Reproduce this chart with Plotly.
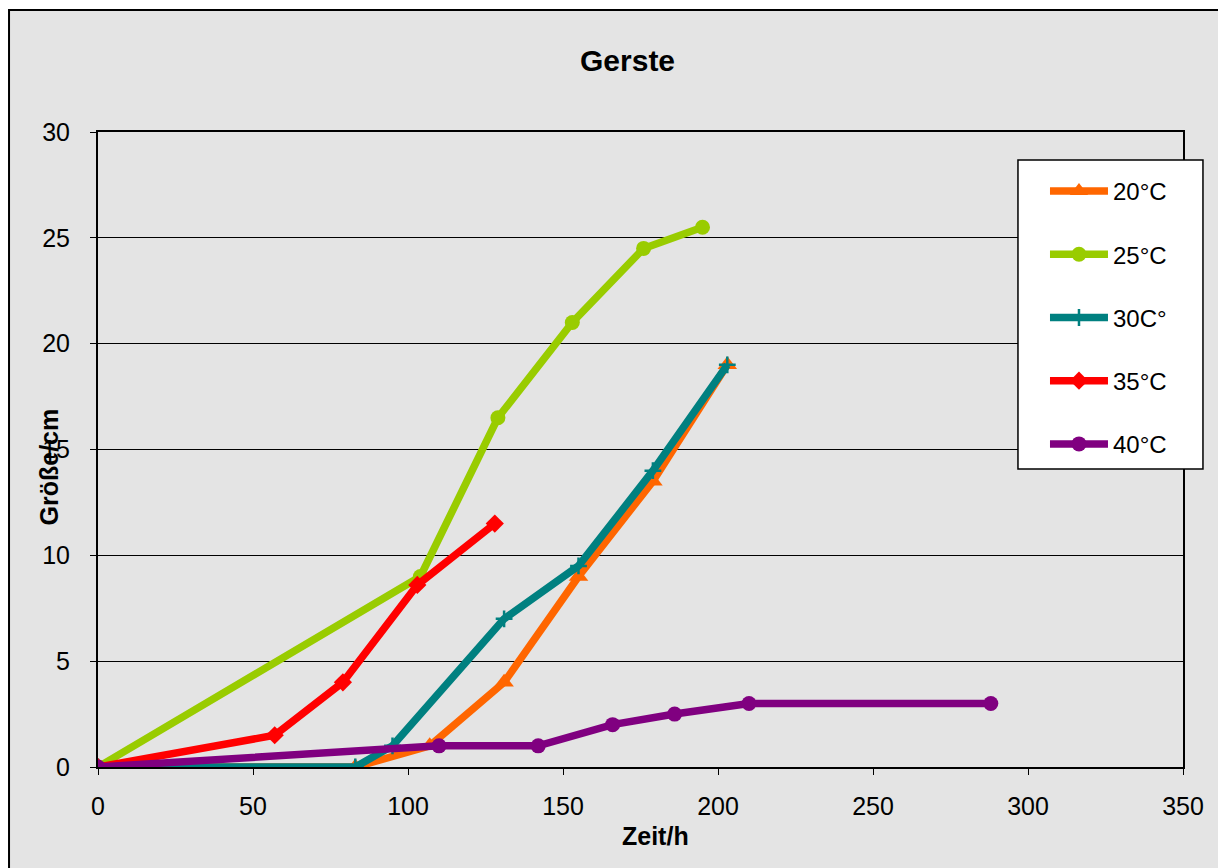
import plotly.graph_objects as go

# Growth of barley seedlings (Gerste) at different temperatures
t20 = [0, 83, 107, 131, 155, 179, 203]
g20 = [0, 0, 1, 4, 9, 13.5, 19]

t25 = [0, 104, 129, 153, 176, 195]
g25 = [0, 9, 16.5, 21, 24.5, 25.5]

t30 = [0, 83, 95, 131, 155, 179, 203]
g30 = [0, 0, 1, 7, 9.5, 14, 19]

t35 = [0, 57, 79, 103, 128]
g35 = [0, 1.5, 4, 8.6, 11.5]

t40 = [0, 110, 142, 166, 186, 210, 288]
g40 = [0, 1, 1, 2, 2.5, 3, 3]

series = [
    ("20°C", t20, g20, "#FF6600", "triangle-up", 17),
    ("25°C", t25, g25, "#99CC00", "circle", 15),
    ("30C°", t30, g30, "#008080", "cross-thin", 12),
    ("35°C", t35, g35, "#FF0000", "diamond", 14),
    ("40°C", t40, g40, "#800080", "circle", 15),
]

FONT = "Liberation Sans, Arial, sans-serif"
BG = "#e4e4e4"

fig = go.Figure()
for name, xs, ys, color, symbol, size in series:
    marker = dict(symbol=symbol, size=size, color=color)
    if symbol == "cross-thin":
        marker["line"] = dict(color=color, width=2.5)
    fig.add_trace(go.Scatter(
        x=xs, y=ys, name=name, legendgroup=name,
        mode="lines+markers",
        line=dict(color=color, width=7.5),
        marker=marker,
    ))

fig.update_layout(
    width=1218, height=868,
    margin=dict(l=98, r=35, t=132, b=101, autoexpand=False),
    paper_bgcolor="white",
    plot_bgcolor=BG,
    font=dict(family=FONT, color="black", size=25),
    showlegend=True,
    legend=dict(
        x=0.8728, y=0.9417, xanchor="left", yanchor="top",
        bgcolor="rgba(0,0,0,0)", borderwidth=0,
        font=dict(size=24, family=FONT),
        tracegroupgap=29, itemwidth=58,
    ),
    xaxis=dict(
        range=[0, 350], tickvals=[0, 50, 100, 150, 200, 250, 300, 350],
        showgrid=False, zeroline=False,
        showline=True, mirror=True, linecolor="black", linewidth=2,
        ticks="outside", ticklen=6, tickcolor="black",
        tickfont=dict(size=25), ticklabelstandoff=10,
    ),
    yaxis=dict(
        range=[0, 30], tickvals=[0, 5, 10, 15, 20, 25, 30],
        showgrid=True, gridcolor="black", gridwidth=1,
        zeroline=False,
        showline=True, mirror=True, linecolor="black", linewidth=2,
        ticks="outside", ticklen=6, tickcolor="black",
        tickfont=dict(size=25), ticklabelstandoff=15,
    ),
    shapes=[
        # chart frame
        dict(type="rect", xref="paper", yref="paper", layer="below",
             x0=-0.082, x1=1.2, y0=-0.3, y1=1.192,
             fillcolor=BG, line=dict(color="black", width=2)),
        # legend frame
        dict(type="rect", xref="paper", yref="paper", layer="above",
             x0=0.8479, x1=1.0184, y0=0.4693, y1=0.9559,
             fillcolor="white", line=dict(color="black", width=1.5)),
    ],
    annotations=[
        dict(text="<b>Gerste</b>", xref="paper", yref="paper",
             x=0.4876, y=1.113, xanchor="center", yanchor="middle",
             showarrow=False, font=dict(size=30)),
        dict(text="<b>Zeit/h</b>", xref="paper", yref="paper",
             x=0.514, y=-0.1087, xanchor="center", yanchor="middle",
             showarrow=False, font=dict(size=25)),
        dict(text="<b>Größe/cm</b>", xref="paper", yref="paper",
             x=-0.045, y=0.472, xanchor="center", yanchor="middle",
             textangle=-90, showarrow=False, font=dict(size=25)),
    ],
)

fig.write_html("out.html")
